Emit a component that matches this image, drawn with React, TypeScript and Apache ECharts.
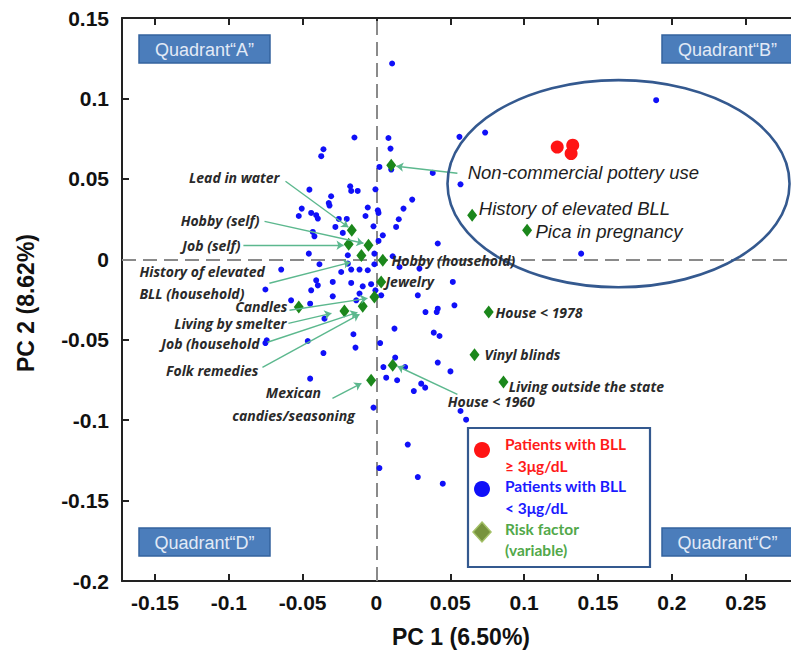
import React, { useEffect, useRef } from "react";
import * as echarts from "echarts";

// ---------- data ----------
const xTickValues = [-0.15, -0.1, -0.05, 0, 0.05, 0.1, 0.15, 0.2, 0.25];

// Patients with BLL < 3 µg/dL  [PC1, PC2]
const bluePatients: [number, number][] = [
  [0.0106, 0.1217], [-0.0149, 0.0757], [-0.0359, 0.0684], [-0.0374, 0.0641], [-0.0454, 0.0433],
  [-0.0178, 0.0454], [-0.0171, 0.0425], [-0.0127, 0.0425], [-0.0007, 0.0435], [-0.0307, 0.0392],
  [-0.0323, 0.035], [-0.0318, 0.0334], [-0.0506, 0.0315], [-0.0526, 0.0269], [-0.0442, 0.0288],
  [-0.0408, 0.0274], [-0.0397, 0.0253], [-0.0059, 0.0322], [-0.0074, 0.0269], [0.0009, 0.0305],
  [-0.0255, 0.0251], [-0.0201, 0.0251], [-0.0278, 0.0201], [-0.0431, 0.017], [-0.042, 0.0143],
  [-0.0228, 0.0164], [-0.002, 0.0205], [0.0043, 0.0149], [0.0014, 0.0114], [-0.0458, 0.0035],
  [-0.0194, 0.0025], [-0.0386, -0.0031], [-0.0014, 0.0035], [-0.0194, -0.0027], [-0.0171, -0.0064],
  [-0.0115, -0.0064], [-0.0059, -0.0068], [-0.0645, -0.0064], [-0.0014, -0.0031], [-0.0239, -0.0079],
  [-0.0408, -0.0131], [-0.0397, -0.0162], [-0.0296, -0.0141], [-0.0171, -0.0147], [-0.0093, -0.0168],
  [-0.0036, -0.0155], [-0.0752, -0.0188], [-0.0442, -0.0193], [-0.0296, -0.023], [-0.0115, -0.0213],
  [-0.0137, -0.0255], [-0.0578, -0.0255], [-0.0449, -0.0276], [-0.0007, -0.0193], [-0.0352, -0.0369],
  [-0.0743, -0.0504], [-0.0752, -0.0521], [-0.0465, -0.0508], [-0.0156, -0.0466], [-0.0142, -0.0549],
  [-0.0359, -0.0583], [0.0025, -0.0521], [0.0047, -0.067], [0.0066, -0.0736], [-0.0449, -0.0742],
  [-0.002, -0.0922], [0.0081, 0.0754], [0.0095, 0.0688], [0.002, 0.0574], [0.01, 0.0558],
  [0.0381, 0.0537], [0.0562, 0.0761], [0.0736, 0.0788], [0.0569, 0.0466], [0.1894, 0.0989],
  [0.0242, 0.0371], [0.0183, 0.0315], [0.0151, 0.0249], [0.0133, 0.0201], [0.0415, 0.0098],
  [0.1386, 0.0035], [0.011, 0.0019], [0.0156, -0.0048], [0.0291, -0.0058], [0.0517, -0.0141],
  [0.028, -0.0224], [0.0032, -0.0224], [0.0332, -0.0328], [0.0408, -0.0328], [0.0415, -0.0307],
  [0.0528, -0.0286], [0.0122, -0.0431], [0.0388, -0.0456], [0.0427, -0.0477], [0.0127, -0.0611],
  [0.0194, -0.067], [0.0415, -0.0642], [0.0501, -0.0697], [0.014, -0.0752], [0.0303, -0.0773],
  [0.033, -0.0798], [0.0253, -0.0819], [0.0569, -0.0943], [0.0607, -0.0997], [0.0212, -0.1152],
  [0.002, -0.1298], [0.028, -0.1354], [0.0449, -0.1395], [0.0014, 0.0288],
];

// Patients with BLL >= 3 µg/dL
const redPatients: [number, number][] = [
  [0.1224, 0.0698], [0.1329, 0.0709], [0.1318, 0.0657],
];

// Risk factors (variables)
const factorNames = [
  "Non-commercial pottery use", "History of elevated BLL", "Pica in pregnancy", "Hobby (household)",
  "Jewelry", "House < 1978", "Vinyl blinds", "Living outside the state", "House < 1960",
  "Mexican candies/seasoning", "Lead in water", "Hobby (self)", "Job (self)",
  "History of elevated BLL (household)", "Candles", "Living by smelter", "Job (household)", "Folk remedies",
];
const factorPC1 = [
  0.01, 0.0648, 0.102, 0.0043, 0.0032, 0.076, 0.0664, 0.086, 0.011,
  -0.0036, -0.0167, -0.0054, -0.0188, -0.0102, -0.0526, -0.0217, -0.0093, -0.0014,
];
const factorPC2 = [
  0.0585, 0.0274, 0.018, -0.0006, -0.0141, -0.0328, -0.0593, -0.0763, -0.0659,
  -0.0752, 0.018, 0.0087, 0.0093, 0.0023, -0.0297, -0.0322, -0.0292, -0.0234,
];

// text annotations: [text, PC1, PC2, align, kind]
const annotationTexts: [string, number, number, "left" | "right" | "center", "small" | "large"][] = [
  ["Lead in water", -0.0657, 0.051, "right", "small"],
  ["Hobby (self)", -0.0792, 0.0243, "right", "small"],
  ["Job (self)", -0.0921, 0.0087, "right", "small"],
  ["History of elevated", -0.1605, -0.0075, "left", "small"],
  ["BLL (household)", -0.1605, -0.0211, "left", "small"],
  ["Candles", -0.0603, -0.0292, "right", "small"],
  ["Living by smelter", -0.0609, -0.04, "right", "small"],
  ["Job (household", -0.0792, -0.0524, "right", "small"],
  ["Folk remedies", -0.0799, -0.0691, "right", "small"],
  ["Mexican", -0.0562, -0.0831, "center", "small"],
  ["candies/seasoning", -0.0562, -0.097, "center", "small"],
  ["Hobby (household)", 0.0102, -0.0006, "left", "small"],
  ["Jewelry", 0.0061, -0.0141, "left", "small"],
  ["House < 1978", 0.0806, -0.0328, "left", "small"],
  ["Vinyl blinds", 0.0731, -0.0591, "left", "small"],
  ["Living outside the state", 0.0896, -0.079, "left", "small"],
  ["House < 1960", 0.0483, -0.0881, "left", "small"],
  ["Non-commercial pottery use", 0.0618, 0.0537, "left", "large"],
  ["History of elevated BLL", 0.0693, 0.0315, "left", "large"],
  ["Pica in pregnancy", 0.1077, 0.0174, "left", "large"],
];

// arrows: from [PC1, PC2] to [PC1, PC2]
const arrowLines: [number, number, number, number][] = [
  [0.0548, 0.0535, 0.0135, 0.0578],
  [-0.0616, 0.0485, -0.019, 0.0199],
  [-0.0758, 0.0236, -0.0088, 0.01],
  [-0.0901, 0.0087, -0.0223, 0.0087],
  [-0.0725, -0.0149, -0.0176, -0.0019],
  [-0.0589, -0.0317, -0.0061, -0.0243],
  [-0.0596, -0.0398, -0.0305, -0.0336],
  [-0.0738, -0.0516, -0.0129, -0.033],
  [-0.0772, -0.0672, -0.0115, -0.0342],
  [-0.0298, -0.0864, -0.0102, -0.0771],
  [0.0548, -0.084, 0.0142, -0.0665],
];

// highlighted region (ellipse) in data units: centre PC1, PC2, radius PC1, radius PC2
const highlightEllipse = [0.1639, 0.047, 0.1158, 0.0644];

const quadrantNames = ["Quadrant\u201CA\u201D", "Quadrant\u201CB\u201D", "Quadrant\u201CC\u201D", "Quadrant\u201CD\u201D"];

// ---------- styles ----------
const AXIS_COLOR = "#222";
const TICK_FONT = "Liberation Sans";

function buildOption(): echarts.EChartsCoreOption {
  const fmt = (v: number) => String(+v.toFixed(2));
  const xCommon = {
    type: "value",
    min: -0.1723,
    max: 0.2807,
    splitLine: { show: false },
    axisLine: { show: true, onZero: false, lineStyle: { color: AXIS_COLOR, width: 2 } },
    axisTick: { show: true, inside: true, length: 7, customValues: xTickValues, lineStyle: { color: AXIS_COLOR, width: 2 } },
  };
  return {
    animation: false,
    backgroundColor: "#fff",
    grid: { left: 122, right: 0, top: 18, bottom: 71, containLabel: false },
    xAxis: [
      {
        ...xCommon,
        position: "bottom",
        axisLabel: {
          show: true,
          customValues: xTickValues,
          formatter: fmt,
          fontFamily: TICK_FONT,
          fontSize: 21,
          fontWeight: "bold",
          color: "#111",
          margin: 11,
        },
      },
      { ...xCommon, position: "top", axisLabel: { show: false } },
    ],
    yAxis: [
      {
        type: "value",
        min: -0.2,
        max: 0.15,
        interval: 0.05,
        splitLine: { show: false },
        axisLine: { show: true, onZero: false, lineStyle: { color: AXIS_COLOR, width: 2 } },
        axisTick: { show: true, inside: true, length: 7, lineStyle: { color: AXIS_COLOR, width: 2 } },
        axisLabel: {
          formatter: fmt,
          fontFamily: TICK_FONT,
          fontSize: 21,
          fontWeight: "bold",
          color: "#111",
          margin: 13,
        },
      },
    ],
    series: [
      {
        name: "Patients with BLL < 3μg/dL",
        type: "scatter",
        data: bluePatients,
        symbol: "circle",
        symbolSize: 6,
        itemStyle: { color: "#1010f8", opacity: 1 },
        z: 3,
        markLine: {
          silent: true,
          symbol: ["none", "none"],
          label: { show: false },
          lineStyle: { color: "#8a8a8a", width: 2, type: [14, 7] },
          data: [{ xAxis: 0 }, { yAxis: 0 }],
          z: 1,
        },
      },
      {
        name: "Risk factor (variable)",
        type: "scatter",
        data: factorNames.map((n, i) => ({ name: n, value: [factorPC1[i], factorPC2[i]] })),
        symbol: "diamond",
        symbolSize: [10, 13],
        itemStyle: { color: "#1b871b", opacity: 1 },
        z: 4,
        markLine: {
          silent: true,
          symbol: ["none", "arrow"],
          symbolSize: 7,
          label: { show: false },
          lineStyle: { color: "#5cb88e", width: 1.4, type: "solid" },
          data: arrowLines.map((a) => [{ coord: [a[0], a[1]] }, { coord: [a[2], a[3]] }]),
        },
      },
      {
        name: "Patients with BLL ≥ 3μg/dL",
        type: "scatter",
        data: redPatients,
        symbol: "circle",
        symbolSize: 13,
        itemStyle: { color: "#ff1414", opacity: 1 },
        z: 5,
      },
    ],
  };
}

function buildGraphic(toPx: (p: number[]) => number[]) {
  const els: any[] = [];
  // ellipse
  const [ecx, ecy, erx, ery] = highlightEllipse;
  const c = toPx([ecx, ecy]);
  const e = toPx([ecx + erx, ecy + ery]);
  els.push({
    type: "ellipse",
    z: 50,
    shape: { cx: c[0], cy: c[1], rx: Math.abs(e[0] - c[0]), ry: Math.abs(e[1] - c[1]) },
    style: { fill: "none", stroke: "#34598f", lineWidth: 2.6 },
    silent: true,
  });
  // annotation texts
  annotationTexts.forEach(([t, x, y, align, kind]) => {
    const p = toPx([x, y]);
    els.push({
      type: "text",
      z: 60,
      x: p[0],
      y: p[1],
      silent: true,
      style:
        kind === "small"
          ? { text: t, fill: "#2a2a2a", font: 'italic bold 14px "Open Sans"', align, verticalAlign: "middle" }
          : { text: t, fill: "#1e1e1e", font: 'italic 18.5px "Liberation Sans"', align, verticalAlign: "middle" },
    });
  });
  // quadrant boxes
  const boxes = [
    [139, 35, quadrantNames[0]],
    [662, 35, quadrantNames[1]],
    [662, 528, quadrantNames[2]],
    [139, 528, quadrantNames[3]],
  ] as [number, number, string][];
  boxes.forEach(([bx, by, t]) => {
    els.push({
      type: "rect",
      z: 70,
      shape: { x: bx, y: by, width: 131, height: 28 },
      style: { fill: "#4b7dbb", stroke: "#34639e", lineWidth: 1.5 },
      silent: true,
    });
    els.push({
      type: "text",
      z: 71,
      x: bx + 65.5,
      y: by + 14.5,
      silent: true,
      style: { text: t, fill: "#e2eaf6", font: '18px "Liberation Sans"', align: "center", verticalAlign: "middle" },
    });
  });
  // legend
  els.push({
    type: "rect",
    z: 70,
    shape: { x: 468, y: 428, width: 182, height: 139 },
    style: { fill: "#fff", stroke: "#34598f", lineWidth: 2.2 },
    silent: true,
  });
  els.push({ type: "circle", z: 71, shape: { cx: 482, cy: 450, r: 8 }, style: { fill: "#ff1414" } });
  els.push({ type: "circle", z: 71, shape: { cx: 482, cy: 489, r: 8 }, style: { fill: "#1010f8" } });
  els.push({
    type: "polygon",
    z: 71,
    shape: { points: [[482, 522], [491, 532], [482, 542], [473, 532]] },
    style: { fill: "#77933c", stroke: "#a4c168", lineWidth: 1.5 },
  });
  const legendTexts: [string, number, string][] = [
    ["Patients with BLL", 444, "#ff1a1a"],
    ["\u2265 3\u03BCg/dL", 466, "#ff1a1a"],
    ["Patients with BLL", 486, "#1a1aff"],
    ["< 3\u03BCg/dL", 508, "#1a1aff"],
    ["Risk factor", 529, "#52a84a"],
    ["(variable)", 550, "#52a84a"],
  ];
  legendTexts.forEach(([t, y, col]) => {
    els.push({
      type: "text",
      z: 72,
      x: 505,
      y,
      silent: true,
      style: { text: t, fill: col, font: 'bold 15.5px "Lato"', align: "left", verticalAlign: "middle" },
    });
  });
  // axis names
  els.push({
    type: "text",
    z: 72,
    x: 461,
    y: 637,
    silent: true,
    style: { text: "PC 1 (6.50%)", fill: "#111", font: 'bold 23px "Liberation Sans"', align: "center", verticalAlign: "middle" },
  });
  els.push({
    type: "text",
    z: 72,
    x: 26,
    y: 303,
    rotation: Math.PI / 2,
    silent: true,
    style: { text: "PC 2 (8.62%)", fill: "#111", font: 'bold 23px "Liberation Sans"', align: "center", verticalAlign: "middle" },
  });
  return els;
}

export default function App() {
  const ref = useRef<HTMLDivElement>(null);
  useEffect(() => {
    document.body.style.margin = "0";
    const chart = echarts.init(ref.current!, null, { renderer: "svg" });
    chart.setOption(buildOption());
    const toPx = (p: number[]) => chart.convertToPixel({ seriesIndex: 0 }, p) as unknown as number[];
    chart.setOption({ graphic: buildGraphic(toPx) });
    return () => chart.dispose();
  }, []);
  return <div ref={ref} style={{ width: 791, height: 652 }} />;
}
